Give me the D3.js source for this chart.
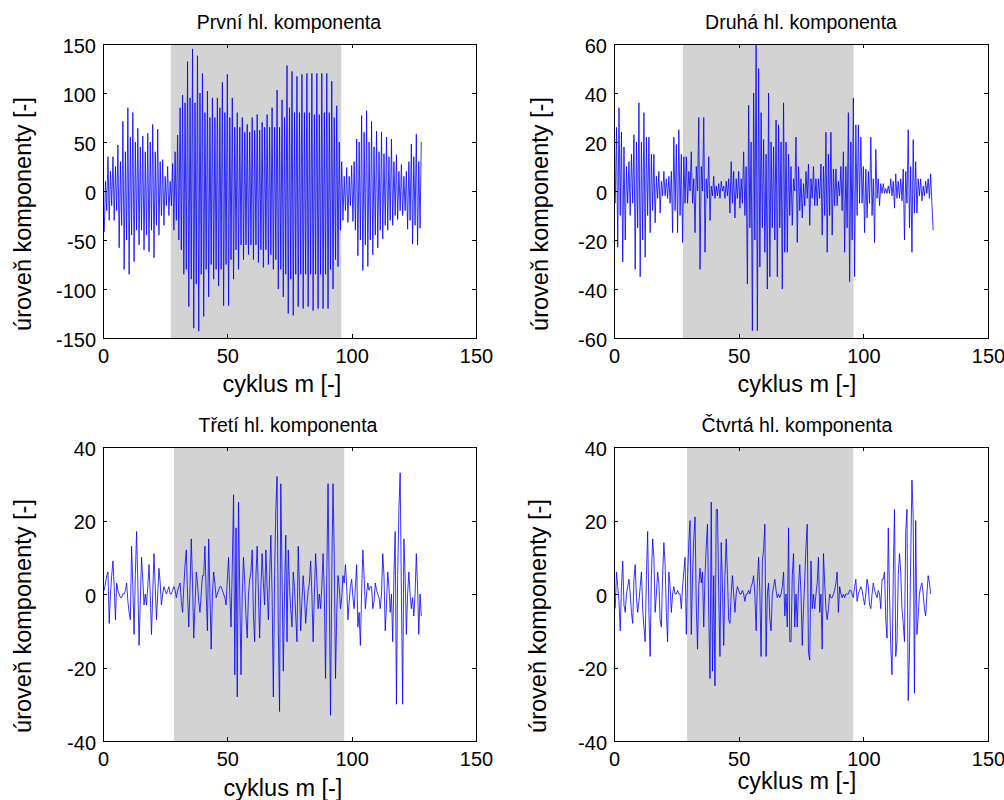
<!DOCTYPE html>
<html><head><meta charset="utf-8">
<script src="https://cdn.jsdelivr.net/npm/d3@7"></script>
<style>
body{margin:0;background:#fff}
svg{display:block}
text{font-family:"Liberation Sans",Arial,Helvetica,sans-serif;fill:#000}
</style>
</head><body>
<svg id="c" width="1004" height="800"></svg>
<script>
// ---------- data: two samples per cycle m, first at m = 0.5 ----------
const comp1 = [
-42,10,-20,35,-30,20,-15,35,-30,25,-20,47,-58,30,-35,71,-80,40,-50,85,
-85,55,-45,80,-72,50,-40,64,-55,45,-40,56,-60,40,-45,59,-62,50,-40,68,
-68,40,-35,63,-45,30,-25,32,-35,15,-15,25,-25,10,-15,28,-40,40,-30,57,
-50,85,-60,98,-85,90,-80,132,-118,95,-90,145,-140,90,-95,138,-143,100,-85,120,
-128,80,-80,102,-108,75,-75,95,-90,75,-80,95,-97,85,-80,111,-117,80,-75,119,
-117,75,-70,95,-90,65,-60,80,-80,65,-55,75,-70,60,-55,68,-65,60,-55,75,
-70,62,-55,78,-73,62,-60,70,-78,65,-60,78,-75,65,-65,85,-80,65,-70,103,
-100,65,-80,93,-108,75,-85,128,-125,85,-90,122,-127,80,-85,117,-118,80,-85,119,
-120,80,-85,120,-118,80,-85,120,-122,78,-85,120,-120,78,-85,120,-120,80,-85,120,
-120,80,-80,112,-100,75,-70,87,-77,50,-40,30,-30,15,-20,24,-32,15,-15,26,
-31,30,-40,53,-66,50,-50,77,-81,60,-55,82,-77,50,-50,71,-65,45,-45,61,
-58,40,-40,60,-49,38,-35,55,-40,35,-30,53,-35,30,-25,37,-29,20,-20,27,
-25,15,-20,20,-39,30,-30,48,-54,35,-35,58,-55,30,-38,50
];
const comp2 = [
-5,26,-23,34,-10,24,-29,18,-20,10,-5,12,-10,15,-5,23,-32,20,-15,36,
-35,20,-20,32,-27,22,-10,22,-17,15,-8,15,-13,6,-3,8,-9,4,-2,8,
-2,5,-3,6,-5,8,-17,22,-8,19,-17,25,-10,15,-21,14,-5,14,-5,8,
0,16,-5,5,-17,10,0,30,-32,10,0,30,-25,5,-3,14,-12,2,-2,6,
-3,2,-2,3,-3,4,0,2,-3,4,-2,5,-9,12,-5,8,-11,5,-3,8,
-7,5,-5,16,-10,10,-38,35,-15,20,-57,40,-20,60,-57,50,-31,32,-15,21,
-25,15,-40,40,-35,20,-15,18,-20,29,-35,27,-15,20,-40,36,-25,20,-25,15,
-10,10,-14,5,0,22,-21,10,-8,5,-11,3,-6,8,-3,11,-14,5,-3,10,
-6,5,-6,5,-3,11,-18,10,-10,24,-25,15,-10,24,-18,9,-6,9,-6,4,
-2,10,-8,16,-25,10,-15,32,-37,20,-20,38,-35,27,-10,27,-5,22,-5,10,
-17,9,-11,8,-5,22,-10,5,-21,17,-3,5,-6,3,-1,3,-1,1,-1,2,
-1,5,-2,4,-7,7,-3,4,-3,5,-4,9,-20,8,-5,25,-15,10,-25,21,
-9,12,-9,5,-2,5,-4,2,-2,4,-1,5,-3,7,-5,-16
];
const comp3 = [
1,3,5,6,-8,0,5,9,2,-7,3,1,0,-1,-1,0,0,1,3,-2,
-5,-7,13,2,-11,5,17,3,-14,-2,10,4,-3,0,-3,2,8,0,-11,0,
11,2,-7,0,7,3,-3,0,2,1,0,1,2,0,0,1,2,1,-1,1,
2,3,-2,-5,2,8,12,0,-9,2,15,3,-12,-3,6,3,-2,-5,0,5,
5,13,0,-10,15,0,-15,0,6,3,-1,0,1,2,2,1,0,-1,-3,4,
10,0,-9,8,27,-22,18,-28,25,0,-22,0,10,3,-6,-12,0,4,6,12,
-6,-13,5,13,0,-12,2,11,3,-3,12,2,-7,5,16,0,-28,5,23,32,
-10,-32,30,5,-21,0,16,-13,12,2,-4,-9,6,2,-6,-13,13,2,-10,-2,
5,0,-8,-3,1,3,9,0,-13,0,11,4,-4,0,-4,2,11,0,-23,5,
30,0,-33,5,30,10,-23,-5,5,2,-4,-1,5,3,8,2,-7,-2,2,4,
-1,-4,2,8,-9,-5,-14,0,12,5,-4,0,3,1,2,2,-4,-2,3,1,
0,-1,-4,0,11,5,-10,-3,6,2,-5,0,-13,5,17,-30,5,23,33,0,
-30,15,5,-11,0,6,0,-4,-1,-6,0,11,2,-11,0,-6
];
const comp4 = [
-4,6,2,-2,-10,2,9,-3,-5,0,2,4,0,-5,-8,4,8,-1,-5,-2,
2,6,-4,-9,-13,5,17,-5,-17,5,15,10,-5,0,6,3,-7,-9,5,14,
8,-5,-13,6,2,-5,0,2,0,0,1,0,0,-4,2,6,10,-11,5,14,
20,-11,5,15,21,-3,-15,2,7,3,6,-9,5,13,19,-5,-23,25,-21,5,
-25,23,23,0,-17,14,2,-14,5,15,5,-7,-8,0,5,0,-5,0,2,1,
0,0,1,0,-2,0,0,1,0,2,3,5,0,-10,3,10,0,-17,9,12,
19,-17,0,3,-7,-10,0,2,4,1,-1,0,-1,0,2,6,-6,0,-9,18,
-13,-13,5,11,-9,0,-9,2,8,0,-14,-4,4,13,19,-16,-18,9,-4,0,
-4,0,3,10,-5,0,-15,11,3,-4,-7,-4,0,-1,-1,0,1,3,6,-5,
2,0,-1,0,-1,0,0,0,1,1,0,-1,2,4,-2,0,1,2,1,-1,
-3,0,4,2,-3,-4,0,3,1,0,-1,1,0,-4,4,4,6,-7,-12,18,
0,-14,-22,5,23,-17,-13,5,11,6,-4,-8,-13,17,23,-29,-16,10,31,21,
-27,20,-11,-6,0,2,3,0,-4,-6,0,5,3,0
];
const sampleStep = 0.5;   // cycles between consecutive samples
const titles = ["První hl. komponenta","Druhá hl. komponenta","Třetí hl. komponenta","Čtvrtá hl. komponenta"];
const xTicks = [0,50,100,150];
const xDomain = [0,150];
const yTicks1 = [-150,-100,-50,0,50,100,150];
const yTicks2 = [-60,-40,-20,0,20,40,60];
const yTicks3 = [-40,-20,0,20,40];
const yTicks4 = [-40,-20,0,20,40];
const yDomains = [[-150,150],[-60,60],[-40,40],[-40,40]];
const shadeRanges = [[27.3,95.8],[27.7,96.1],[28.5,97.0],[29.3,95.9]];
const xLabel = "cyklus m [-]";
const yLabel = "úroveň komponenty [-]";

// ---------- layout ----------
const series = [comp1,comp2,comp3,comp4];
const yTickSets = [yTicks1,yTicks2,yTicks3,yTicks4];
const layout = [
 {l:103,r:476,t:44,b:338, titleX:289, titleY:29, xlabX:282, xlabY:392, ylabX:31,  ylabY:214},
 {l:614,r:988,t:44,b:338, titleX:801, titleY:29, xlabX:797, xlabY:392, ylabX:548, ylabY:214},
 {l:103,r:476,t:447,b:741,titleX:288, titleY:432,xlabX:283, xlabY:796, ylabX:31,  ylabY:616},
 {l:614,r:988,t:447,b:741,titleX:797, titleY:432,xlabX:797, xlabY:789, ylabX:546, ylabY:616}
];
const FONT = '"Liberation Sans",Arial,Helvetica,sans-serif';

const svg = d3.select("#c");
svg.append("rect").attr("width",1004).attr("height",800).attr("fill","#fff");

layout.forEach((L,k)=>{
  const x = d3.scaleLinear().domain(xDomain).range([L.l,L.r]);
  const y = d3.scaleLinear().domain(yDomains[k]).range([L.b,L.t]);
  const g = svg.append("g");

  g.append("clipPath").attr("id","clip"+k)
   .append("rect").attr("x",L.l).attr("y",L.t).attr("width",L.r-L.l).attr("height",L.b-L.t);

  g.append("rect")
   .attr("x",x(shadeRanges[k][0])).attr("y",L.t)
   .attr("width",x(shadeRanges[k][1])-x(shadeRanges[k][0])).attr("height",L.b-L.t)
   .attr("fill","#d3d3d3");

  const line = d3.line().x((d,i)=>x((i+1)*sampleStep)).y(d=>y(d));
  g.append("path").datum(series[k])
   .attr("clip-path","url(#clip"+k+")")
   .attr("d",line).attr("fill","none").attr("stroke","#0000ff").attr("stroke-width",0.8);

  g.append("rect").attr("x",L.l).attr("y",L.t).attr("width",L.r-L.l).attr("height",L.b-L.t)
   .attr("fill","none").attr("stroke","#000").attr("stroke-width",1).attr("shape-rendering","crispEdges");

  const fmt = d=>String(d);
  const styleAxis = sel=>{
    sel.select(".domain").remove();
    sel.attr("font-family",FONT).attr("font-size",20);
    sel.selectAll(".tick line").attr("stroke","#000").attr("shape-rendering","crispEdges");
    sel.selectAll(".tick text").attr("fill","#000");
  };
  const ax = g.append("g").attr("transform",`translate(0,${L.b})`)
    .call(d3.axisBottom(x).tickValues(xTicks).tickSizeInner(-4).tickSizeOuter(0).tickPadding(11).tickFormat(fmt));
  styleAxis(ax);
  const axT = g.append("g").attr("transform",`translate(0,${L.t})`)
    .call(d3.axisTop(x).tickValues(xTicks).tickSizeInner(-4).tickSizeOuter(0).tickFormat(""));
  styleAxis(axT);
  const ay = g.append("g").attr("transform",`translate(${L.l},0)`)
    .call(d3.axisLeft(y).tickValues(yTickSets[k]).tickSizeInner(-4).tickSizeOuter(0).tickPadding(7).tickFormat(fmt));
  styleAxis(ay);
  ay.selectAll(".tick text").attr("dy","0.40em");
  const ayR = g.append("g").attr("transform",`translate(${L.r},0)`)
    .call(d3.axisRight(y).tickValues(yTickSets[k]).tickSizeInner(-4).tickSizeOuter(0).tickFormat(""));
  styleAxis(ayR);

  g.append("text").attr("x",L.titleX).attr("y",L.titleY).attr("text-anchor","middle")
   .attr("font-size",19.5).text(titles[k]);
  g.append("text").attr("x",L.xlabX).attr("y",L.xlabY).attr("text-anchor","middle")
   .attr("font-size",23.5).text(xLabel);
  g.append("text").attr("transform",`translate(${L.ylabX},${L.ylabY}) rotate(-90)`)
   .attr("text-anchor","middle").attr("font-size",23.5).text(yLabel);
});
</script>
</body></html>
